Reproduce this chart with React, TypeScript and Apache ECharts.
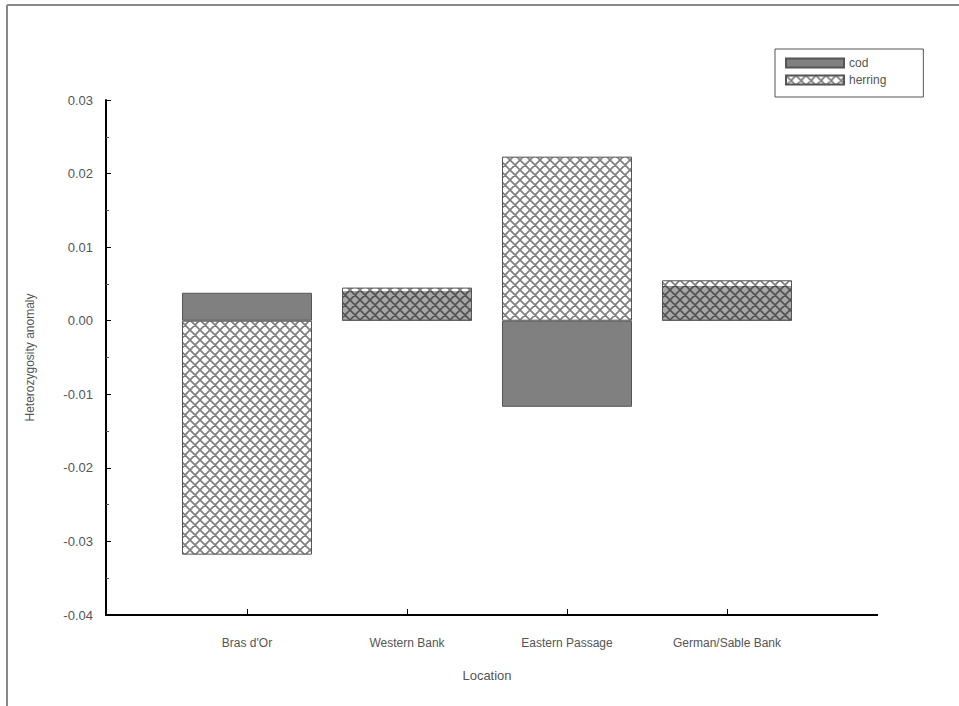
import React, { useEffect, useRef } from "react";
import * as echarts from "echarts";

const categories = ["Bras d'Or", "Western Bank", "Eastern Passage", "German/Sable Bank"];
const codValues = [0.0038, 0.004, -0.0117, 0.0047];
const herringValues = [-0.0318, 0.0045, 0.0223, 0.0055];
const yMin = -0.04;
const yMax = 0.03;
const yInterval = 0.01;

function makeHatch(): HTMLCanvasElement {
  const c = document.createElement("canvas");
  c.width = 10;
  c.height = 10;
  const ctx = c.getContext("2d")!;
  ctx.fillStyle = "rgba(255,255,255,0.3)";
  ctx.fillRect(0, 0, 10, 10);
  ctx.strokeStyle = "rgba(0,0,0,0.5)";
  ctx.lineWidth = 1.7;
  ctx.beginPath();
  for (let k = -10; k <= 20; k += 10) {
    ctx.moveTo(k, 0);
    ctx.lineTo(k + 10, 10);
    ctx.moveTo(k + 10, 0);
    ctx.lineTo(k, 10);
  }
  ctx.stroke();
  return c;
}

export default function App() {
  const ref = useRef<HTMLDivElement>(null);
  useEffect(() => {
    const chart = echarts.init(ref.current!, null, { renderer: "svg" });
    const hatch = { image: makeHatch(), repeat: "repeat", imageWidth: 10, imageHeight: 10 } as any;
    const font = "Liberation Sans";
    chart.setOption({
      animation: false,
      backgroundColor: "#ffffff",
      textStyle: { fontFamily: font },
      grid: { left: 167, width: 640, top: 100, height: 515 },
      legend: {
        data: ["cod", "herring"],
        orient: "vertical",
        left: 775,
        top: 49,
        itemWidth: 58,
        itemHeight: 9,
        itemGap: 5,
        itemTextGap: 17,
        icon: "rect",
        borderColor: "#555",
        borderWidth: 1,
        padding: [8, 37, 11, 10],
        textStyle: { color: "#555", fontSize: 12, fontFamily: font },
      },
      xAxis: {
        type: "category",
        data: categories,
        name: "Location",
        nameLocation: "middle",
        nameGap: 54,
        nameTextStyle: { color: "#555", fontSize: 13, fontFamily: font },
        axisLine: { show: false, onZero: false },
        axisTick: { show: true, alignWithLabel: true, inside: true, length: 6, lineStyle: { color: "#000" } },
        axisLabel: { color: "#555", fontSize: 12, margin: 22, fontFamily: font },
        splitLine: { show: false },
      },
      yAxis: {
        type: "value",
        min: yMin,
        max: yMax,
        interval: yInterval,
        offset: 61,
        name: "Heterozygosity anomaly",
        nameLocation: "middle",
        nameGap: 70,
        nameTextStyle: { color: "#555", fontSize: 12, fontFamily: font },
        axisLine: { show: true, lineStyle: { color: "#000", width: 2 } },
        axisTick: { show: true, inside: true, length: 5, lineStyle: { color: "#000" } },
        minorTick: { show: true, splitNumber: 2, length: 3, lineStyle: { color: "#555" } },
        axisLabel: {
          color: "#555",
          fontSize: 13,
          margin: 13,
          fontFamily: font,
          formatter: (v: number) => v.toFixed(2),
        },
        splitLine: { show: false },
      },
      graphic: [
        { type: "line", shape: { x1: 105, y1: 615, x2: 878, y2: 615 }, style: { stroke: "#000", lineWidth: 2 } },
        { type: "line", shape: { x1: 7, y1: 5, x2: 959, y2: 5 }, style: { stroke: "#888", lineWidth: 2 } },
        { type: "line", shape: { x1: 7, y1: 5, x2: 7, y2: 706 }, style: { stroke: "#888", lineWidth: 2 } },
      ],
      series: [
        {
          name: "cod",
          type: "bar",
          data: codValues,
          barWidth: 130,
          barGap: "-100%",
          itemStyle: { color: "#808080", borderColor: "#555", borderWidth: 1 },
        },
        {
          name: "herring",
          type: "bar",
          data: herringValues,
          barWidth: 130,
          barGap: "-100%",
          itemStyle: { color: hatch, borderColor: "#555", borderWidth: 1 },
        },
      ],
    });
    return () => chart.dispose();
  }, []);
  return (
    <div
      ref={ref}
      style={{ position: "fixed", left: 0, top: 0, width: 959, height: 706 }}
    />
  );
}
